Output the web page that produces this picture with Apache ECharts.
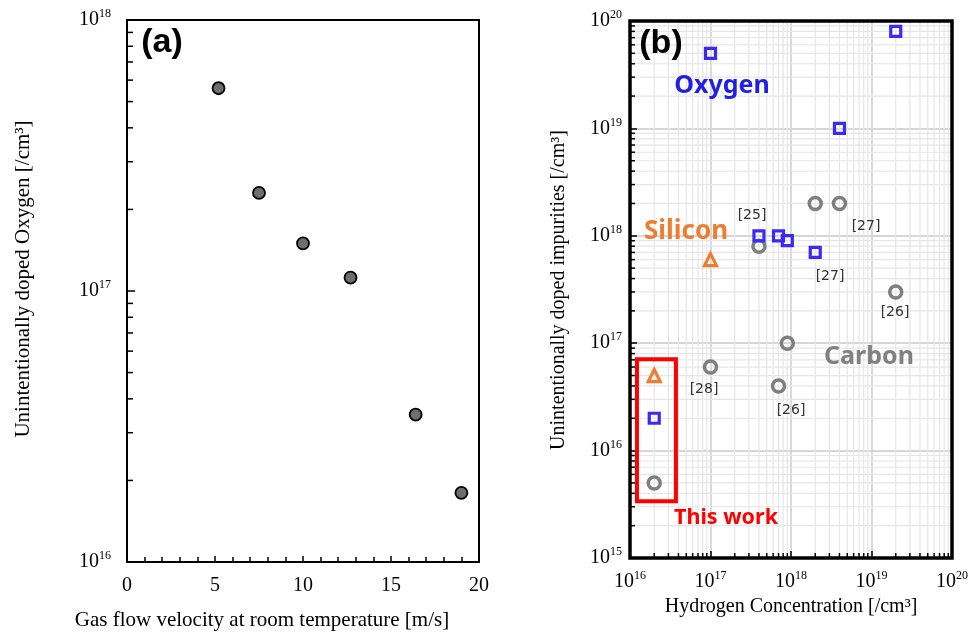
<!DOCTYPE html>
<html><head><meta charset="utf-8">
<script src="https://cdn.jsdelivr.net/npm/echarts@6/dist/echarts.min.js"></script>
<style>html,body{margin:0;padding:0;background:#fff}#c{width:974px;height:632px}</style>
</head><body><div id="c"></div>
<script>
// ---- Panel (a) data ----
const velocity = [5.2, 7.5, 10.0, 12.7, 16.4, 19.0];
const oxygenA  = [5.6e17, 2.3e17, 1.5e17, 1.12e17, 3.5e16, 1.8e16];
// ---- Panel (b) data ----
const oxygenH  = [1e17, 2e19, 4e18, 4e17, 7e17, 9e17, 2e18, 2e16];
const oxygenC  = [5e19, 8e19, 1e19, 1e18, 1e18, 9e17, 7e17, 2e16];
const carbonH  = [2e18, 4e18, 4e17, 2e19, 9e17, 1e17, 7e17, 2e16];
const carbonC  = [2e18, 2e18, 8e17, 3e17, 1e17, 6e16, 4e16, 5e15];
const siliconH = [1e17, 2e16];
const siliconC = [6e17, 5e16];
const refLabels = ['[25]', '[27]', '[27]', '[26]', '[28]', '[26]'];
const thisWorkBox = [[1.22e16, 7.1e16], [3.72e16, 3.37e15]];

const zip = (a, b) => a.map((v, i) => [v, b[i]]);
function minorVals(d0, d1) {
  const out = [];
  for (let d = d0; d < d1; d++) for (let m = 2; m <= 9; m++) out.push(m * Math.pow(10, d));
  return out;
}
const SERIF = 'Liberation Serif';
const SANS = 'Noto Sans';
const powLabel = v => '{b|10}{s|' + Math.round(Math.log10(v)) + '}';
const powRich = {
  b: { fontFamily: SERIF, fontSize: 20, lineHeight: 24, color: '#000' },
  s: { fontFamily: SERIF, fontSize: 12, lineHeight: 8, verticalAlign: 'top', color: '#000' }
};

const chart = echarts.init(document.getElementById('c'), null, { renderer: 'canvas' });

function txt(text, x, y, font, fill, rot) {
  return {
    type: 'text', x: x, y: y, rotation: rot || 0, z: 50,
    style: { text: text, font: font, fill: fill, align: 'center', verticalAlign: 'middle',
             textAlign: 'center', textVerticalAlign: 'middle' }
  };
}
function frameSeries(xi, yi, x0, x1, y0, y1, w) {
  return { type: 'custom', xAxisIndex: xi, yAxisIndex: yi, silent: true, z: 20,
    data: [[x0, y0]],
    renderItem: (p, api) => {
      const a = api.coord([x0, y1]), b = api.coord([x1, y0]);
      return { type: 'rect', shape: { x: a[0], y: a[1], width: b[0] - a[0], height: b[1] - a[1] },
               style: { fill: 'none', stroke: '#000', lineWidth: w } };
    } };
}

const option = {
  backgroundColor: '#fff',
  animation: false,
  grid: [
    { left: 127, top: 20, width: 352, height: 542, show: false },
    { left: 630, top: 21, width: 322, height: 537, show: false }
  ],
  xAxis: [
    { type: 'value', gridIndex: 0, min: 0, max: 20, interval: 5,
      axisLine: { show: false }, splitLine: { show: false },
      axisTick: { show: true, inside: true, length: 6, lineStyle: { color: '#000', width: 1.5 } },
      minorTick: { show: true, splitNumber: 5, length: 5, lineStyle: { color: '#000', width: 1.5 } },
      axisLabel: { fontFamily: SERIF, fontSize: 20, color: '#000', margin: 14 } },
    { type: 'log', gridIndex: 1, min: 1e16, max: 1e20, logBase: 10,
      axisLine: { show: false },
      splitLine: { show: true, showMinLine: false, showMaxLine: false, lineStyle: { color: '#d6d6d6', width: 1.8 } },
      axisTick: { show: true, inside: true, length: 7, lineStyle: { color: '#000', width: 1.5 } },
      axisLabel: { formatter: powLabel, rich: powRich, margin: 12 } }
  ],
  yAxis: [
    { type: 'log', gridIndex: 0, min: 1e16, max: 1e18, logBase: 10,
      axisLine: { show: false }, splitLine: { show: false },
      axisTick: { show: true, inside: true, length: 8, lineStyle: { color: '#000', width: 1.5 } },
      axisLabel: { formatter: powLabel, rich: powRich, margin: 16 } },
    { type: 'log', gridIndex: 1, min: 1e15, max: 1e20, logBase: 10,
      axisLine: { show: false },
      splitLine: { show: true, showMinLine: false, showMaxLine: false, lineStyle: { color: '#d6d6d6', width: 1.8 } },
      axisTick: { show: true, inside: true, length: 7, lineStyle: { color: '#000', width: 1.5 } },
      axisLabel: { formatter: powLabel, rich: powRich, margin: 8 } }
  ],
  series: [
    // minor ticks, panel (a) y-axis
    { type: 'custom', xAxisIndex: 0, yAxisIndex: 0, silent: true, z: 5,
      data: minorVals(16, 18).map(v => [0, v]),
      renderItem: (p, api) => {
        const c = api.coord([0, api.value(1)]);
        return { type: 'line', shape: { x1: c[0], y1: c[1], x2: c[0] + 6, y2: c[1] }, style: { stroke: '#000', lineWidth: 1.5 } };
      } },
    // minor grid + ticks, panel (b) x
    { type: 'custom', xAxisIndex: 1, yAxisIndex: 1, silent: true, z: 1,
      data: minorVals(16, 20).map(v => [v, 1e15]),
      renderItem: (p, api) => {
        const x = api.value(0);
        const t = api.coord([x, 1e20]), b = api.coord([x, 1e15]);
        return { type: 'group', children: [
          { type: 'line', shape: { x1: t[0], y1: t[1], x2: b[0], y2: b[1] }, style: { stroke: '#e6e6e6', lineWidth: 1.2 } },
          { type: 'line', shape: { x1: b[0], y1: b[1], x2: b[0], y2: b[1] - 5 }, style: { stroke: '#000', lineWidth: 1.5 } }
        ] };
      } },
    // minor grid + ticks, panel (b) y
    { type: 'custom', xAxisIndex: 1, yAxisIndex: 1, silent: true, z: 1,
      data: minorVals(15, 20).map(v => [1e16, v]),
      renderItem: (p, api) => {
        const y = api.value(1);
        const l = api.coord([1e16, y]), r = api.coord([1e20, y]);
        return { type: 'group', children: [
          { type: 'line', shape: { x1: l[0], y1: l[1], x2: r[0], y2: r[1] }, style: { stroke: '#e6e6e6', lineWidth: 1.2 } },
          { type: 'line', shape: { x1: l[0], y1: l[1], x2: l[0] + 5, y2: l[1] }, style: { stroke: '#000', lineWidth: 1.5 } }
        ] };
      } },
    frameSeries(0, 0, 0, 20, 1e16, 1e18, 2),
    frameSeries(1, 1, 1e16, 1e20, 1e15, 1e20, 3.5),
    { name: 'Oxygen (a)', type: 'scatter', xAxisIndex: 0, yAxisIndex: 0, z: 10,
      data: zip(velocity, oxygenA), symbol: 'circle', symbolSize: 12,
      itemStyle: { color: '#6e6e6e', borderColor: '#000', borderWidth: 1.8, opacity: 1 } },
    { name: 'Carbon', type: 'scatter', xAxisIndex: 1, yAxisIndex: 1, z: 10,
      data: zip(carbonH, carbonC), symbol: 'circle', symbolSize: 12,
      itemStyle: { color: 'rgba(255,255,255,0)', borderColor: '#7f7f7f', borderWidth: 3.5, opacity: 1 } },
    { name: 'Oxygen', type: 'scatter', xAxisIndex: 1, yAxisIndex: 1, z: 11,
      data: zip(oxygenH, oxygenC), symbol: 'rect', symbolSize: 10,
      itemStyle: { color: 'rgba(255,255,255,0)', borderColor: '#3b2af4', borderWidth: 3.2, opacity: 1 } },
    { name: 'Silicon', type: 'scatter', xAxisIndex: 1, yAxisIndex: 1, z: 11,
      data: zip(siliconH, siliconC), symbol: 'triangle', symbolSize: 12,
      itemStyle: { color: 'rgba(255,255,255,0)', borderColor: '#ed7d31', borderWidth: 3.2, opacity: 1 },
      markArea: { silent: true, z: 12,
        itemStyle: { color: 'rgba(0,0,0,0)', borderColor: '#ff0000', borderWidth: 4 },
        data: [[{ coord: thisWorkBox[0] }, { coord: thisWorkBox[1] }]] } }
  ],
  graphic: [
    txt('(a)', 162, 43, 'bold 34px "Liberation Sans"', '#000'),
    txt('(b)', 661, 44, 'bold 34px "Liberation Sans"', '#000'),
    txt('Unintentionally doped Oxygen [/cm\u00b3]', 23, 279, '21px "' + SERIF + '"', '#000', Math.PI / 2),
    txt('Gas flow velocity at room temperature [m/s]', 262, 620, '21px "' + SERIF + '"', '#000'),
    txt('Unintentionally doped impurities [/cm\u00b3]', 559, 290, '20px "' + SERIF + '"', '#000', Math.PI / 2),
    txt('Hydrogen Concentration [/cm\u00b3]', 791, 607, '20px "' + SERIF + '"', '#000'),
    txt('Oxygen', 722, 86, 'bold 25px "' + SANS + '"', '#1f1fe6'),
    txt('Silicon', 686, 232, 'bold 26px "' + SANS + '"', '#ed7d31'),
    txt('Carbon', 869, 357, 'bold 25px "' + SANS + '"', '#808080'),
    txt('This work', 726, 518, 'bold 21.5px "' + SANS + '"', '#ff0000'),
    txt(refLabels[0], 752, 215, '14px "DejaVu Sans"', '#333'),
    txt(refLabels[1], 866, 226, '14px "DejaVu Sans"', '#333'),
    txt(refLabels[2], 830, 276, '14px "DejaVu Sans"', '#333'),
    txt(refLabels[3], 895, 312, '14px "DejaVu Sans"', '#333'),
    txt(refLabels[4], 704, 389, '14px "DejaVu Sans"', '#333'),
    txt(refLabels[5], 791, 410, '14px "DejaVu Sans"', '#333')
  ]
};
chart.setOption(option);
</script>
</body></html>
